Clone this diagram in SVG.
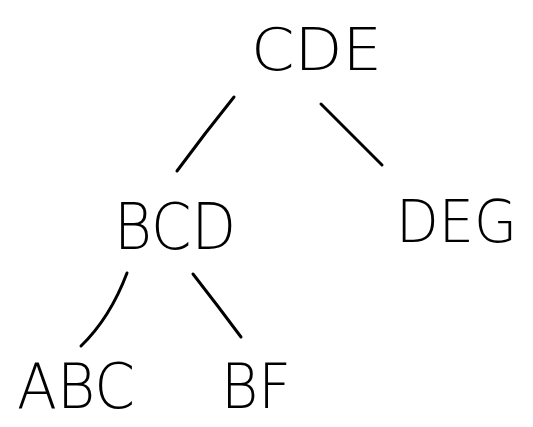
<svg xmlns="http://www.w3.org/2000/svg" width="533" height="427" viewBox="0 0 533 427">
<style>
.lbl{font-family:"DejaVu Sans","Liberation Sans",sans-serif;font-weight:200;fill:#000}
.edge{fill:none;stroke:#000;stroke-width:3;stroke-linecap:round}
</style>
<rect width="533" height="427" fill="#fff"/>
<g id="edges">
<path class="edge" d="M234,97 Q205,133 177,171"/>
<path class="edge" d="M321,104 Q352,135 382,165"/>
<path class="edge" d="M127,273 Q110,318 81,346"/>
<path class="edge" d="M193,274 Q218,306 241,337"/>
</g>
<g id="n-cde"><text class="lbl" x="251" y="70" font-size="58" textLength="131" lengthAdjust="spacingAndGlyphs">CDE</text></g>
<g id="n-bcd"><text class="lbl" x="114" y="249" font-size="64" textLength="122" lengthAdjust="spacingAndGlyphs">BCD</text></g>
<g id="n-deg"><text class="lbl" x="396" y="242" font-size="58" textLength="121" lengthAdjust="spacingAndGlyphs">DEG</text></g>
<g id="n-abc"><text class="lbl" x="17" y="408" font-size="62" textLength="118" lengthAdjust="spacingAndGlyphs">ABC</text></g>
<g id="n-bf"><text class="lbl" x="221" y="408" font-size="62" textLength="70" lengthAdjust="spacingAndGlyphs">BF</text></g>
</svg>
